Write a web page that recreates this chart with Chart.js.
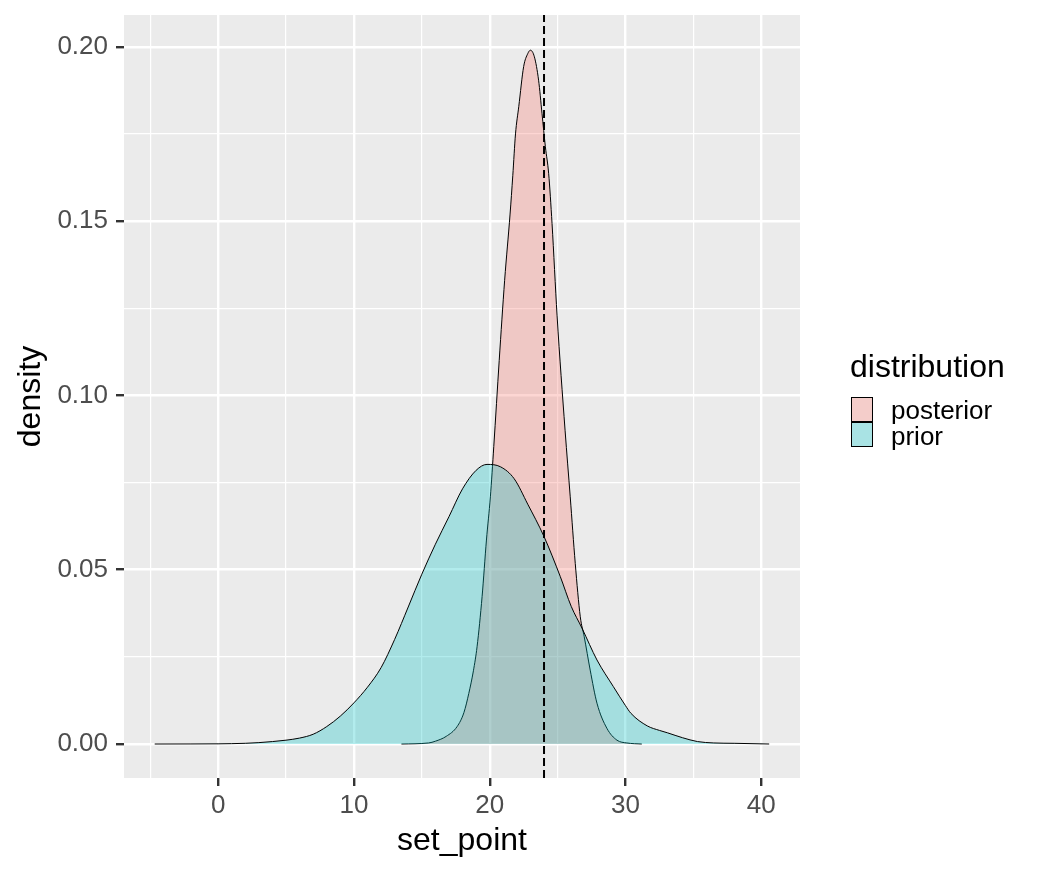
<!DOCTYPE html>
<html><head><meta charset="utf-8">
<script src="https://cdn.jsdelivr.net/npm/chart.js@4"></script>
<style>
body{margin:0;background:#fff;}
#wrap{position:relative;width:1040px;height:877px;}
canvas{position:absolute;left:0;top:0;}
.lg{position:absolute;font-family:"Liberation Sans",Arial,sans-serif;color:#000;white-space:nowrap;}
.key{position:absolute;box-sizing:border-box;width:22px;height:25px;border:1px solid #000;left:851px;}
</style></head><body>
<div id="wrap">
<canvas id="c" width="1040" height="877"></canvas>
<div class="lg" style="left:850px;top:350px;font-size:32px;line-height:32px;">distribution</div>
<div class="key" style="top:397px;background:rgb(244,205,202);"></div>
<div class="key" style="top:422px;background:rgb(169,227,228);"></div>
<div class="lg" style="left:891px;top:397px;font-size:26px;line-height:26px;">posterior</div>
<div class="lg" style="left:891px;top:423px;font-size:26px;line-height:26px;">prior</div>
</div>
<script>
// ---- data ----
const priorX = [-4.67,-2,0,2,3,4,5,6,7,8,9,10,11,12,13,14,15,16,17,18,19,19.8,20.8,21.8,22.8,24,25.2,26,26.8,27.9,29.1,30,30.4,31.6,32.5,33.1,34.2,35.3,36.5,38,40.58];
const priorY = [0,0.00002,0.00005,0.0002,0.0004,0.0007,0.0011,0.0017,0.0028,0.0050,0.0080,0.0118,0.0163,0.0219,0.0300,0.0393,0.0487,0.0573,0.0652,0.0732,0.0785,0.0802,0.0795,0.0761,0.0688,0.0595,0.0480,0.0395,0.0332,0.0241,0.0165,0.0110,0.0088,0.0052,0.0039,0.0032,0.0018,0.0007,0.0003,0.0002,0];
const posteriorX = [13.5,15.5,16.0,16.8,17.6,18.1,18.46,18.8,19.07,19.44,19.76,20.05,20.3,20.7,21.1,21.5,21.7,21.9,22.14,22.5,22.8,23.0,23.29,23.6,23.85,24.1,24.34,24.59,24.96,25.55,25.93,26.3,26.67,26.96,27.4,27.9,28.63,29.37,30.1,31.2];
const posteriorY = [0,0.0003,0.0008,0.0022,0.0050,0.0090,0.0145,0.0210,0.0279,0.0423,0.0585,0.0709,0.0853,0.110,0.133,0.152,0.163,0.175,0.1828,0.1943,0.1980,0.1990,0.1971,0.1904,0.1809,0.1713,0.1637,0.1493,0.123,0.090,0.0709,0.0518,0.0365,0.0308,0.0212,0.0117,0.0045,0.0011,0.0003,0];
const vlineX = 24;
const xMajorTicks = [0,10,20,30,40];
const xTickLabels = ['0','10','20','30','40'];
const xMinorTicks = [-5,5,15,25,35];
const yMajorTicks = [0,0.05,0.10,0.15,0.20];
const yTickLabels = ['0.00','0.05','0.10','0.15','0.20'];
const yMinorTicks = [0.025,0.075,0.125,0.175];
const xRange = [-6.93,42.85];
const yRange = [-0.00975,0.2091];
const seriesNames = ['posterior','prior'];

// ---- chart ----
const FONT = '"Liberation Sans", Arial, sans-serif';
const near = (arr, v) => arr.findIndex(a => Math.abs(a - v) < 1e-9);
const toPts = (xs, ys) => xs.map((x, i) => ({x: x, y: ys[i]}));

const panelBg = {
  id: 'panelBg',
  beforeDraw(chart) {
    const {ctx, chartArea: a} = chart;
    ctx.save();
    ctx.fillStyle = '#EBEBEB';
    ctx.fillRect(a.left, a.top, a.right - a.left, a.bottom - a.top);
    ctx.restore();
  }
};

function gridOpts(major) {
  return {
    color: '#FFFFFF',
    lineWidth: c => (c.tick && near(major, c.tick.value) >= 0) ? 2.4 : 1.2,
    tickColor: c => (c.tick && near(major, c.tick.value) >= 0) ? '#333333' : 'rgba(0,0,0,0)',
    tickWidth: c => (c.tick && near(major, c.tick.value) >= 0) ? 2.4 : 0,
    tickLength: 8,
    drawTicks: true,
    drawOnChartArea: true
  };
}
function zeroPad(s) { s.paddingTop = 0; s.paddingBottom = 0; s.paddingLeft = 0; s.paddingRight = 0; }

new Chart(document.getElementById('c'), {
  type: 'line',
  data: {
    datasets: [
      {
        label: 'vline',
        data: [{x: vlineX, y: yRange[0]}, {x: vlineX, y: yRange[1]}],
        borderColor: '#000', borderWidth: 2, borderDash: [8, 4],
        pointRadius: 0, fill: false, order: 0
      },
      {
        label: seriesNames[1],
        data: toPts(priorX, priorY),
        borderColor: '#000', borderWidth: 1,
        backgroundColor: 'rgba(0,191,196,0.3)',
        fill: 'origin', pointRadius: 0,
        cubicInterpolationMode: 'monotone', order: 1
      },
      {
        label: seriesNames[0],
        data: toPts(posteriorX, posteriorY),
        borderColor: '#000', borderWidth: 1,
        backgroundColor: 'rgba(248,118,109,0.3)',
        fill: 'origin', pointRadius: 0,
        cubicInterpolationMode: 'monotone', order: 2
      }
    ]
  },
  options: {
    responsive: false,
    animation: false,
    events: [],
    layout: {padding: {left: 0, top: 15, right: 240, bottom: 0}},
    plugins: {legend: {display: false}, tooltip: {enabled: false}},
    scales: {
      x: {
        type: 'linear', min: xRange[0], max: xRange[1],
        afterBuildTicks: s => { s.ticks = xMinorTicks.concat(xMajorTicks).sort((a,b)=>a-b).map(v => ({value: v})); },
        afterFit: s => { s.height = 99; zeroPad(s); },
        grid: gridOpts(xMajorTicks),
        border: {display: false},
        ticks: {
          autoSkip: false, maxRotation: 0, padding: 4,
          color: '#4D4D4D', font: {family: FONT, size: 26},
          callback: v => { const i = near(xMajorTicks, v); return i >= 0 ? xTickLabels[i] : ''; }
        },
        title: {display: true, text: 'set_point', color: '#000',
          font: {family: FONT, size: 32, lineHeight: 1}, padding: {top: 0, bottom: 20}}
      },
      y: {
        type: 'linear', min: yRange[0], max: yRange[1],
        afterBuildTicks: s => { s.ticks = yMinorTicks.concat(yMajorTicks).sort((a,b)=>a-b).map(v => ({value: v})); },
        afterFit: s => { s.width = 124; zeroPad(s); },
        grid: gridOpts(yMajorTicks),
        border: {display: false},
        ticks: {
          autoSkip: false, padding: 8,
          color: '#4D4D4D', font: {family: FONT, size: 26},
          callback: v => { const i = near(yMajorTicks, v); return i >= 0 ? yTickLabels[i] : ''; }
        },
        title: {display: true, text: 'density', color: '#000',
          font: {family: FONT, size: 32, lineHeight: 1}, padding: {top: 15, bottom: 0}}
      }
    }
  },
  plugins: [panelBg]
});
</script>
</body></html>
